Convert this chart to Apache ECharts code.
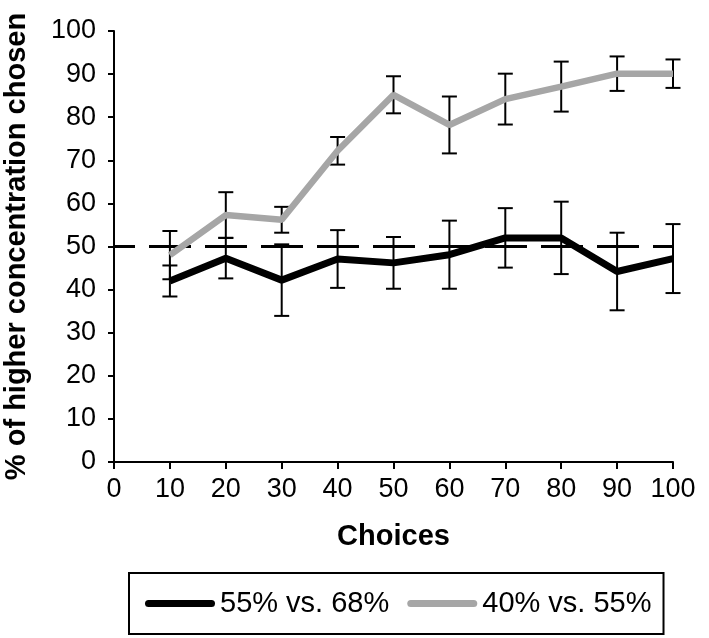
<!DOCTYPE html>
<html>
<head>
<meta charset="utf-8">
<script src="https://cdn.jsdelivr.net/npm/echarts@6/dist/echarts.min.js"></script>
<style>html,body{margin:0;padding:0;background:#fff}#c{width:709px;height:638px}</style>
</head>
<body>
<div id="c"></div>
<script>
// ---- data ----
var choices = [10, 20, 30, 40, 50, 60, 70, 80, 90, 100];
var blackName = '55% vs. 68%';
var grayName = '40% vs. 55%';
var blackVals = [42, 47.3, 42.2, 47.1, 46.2, 48.1, 52, 52, 44.2, 47.2];
var blackErr  = [3.6, 4.7, 8.3, 6.7, 6.0, 7.9, 6.9, 8.4, 9.0, 8.0];
var grayVals  = [48, 57.3, 56.2, 72.2, 85.2, 78.2, 84.2, 87.1, 90.1, 90.1];
var grayErr   = [5.6, 5.3, 3.0, 3.2, 4.3, 6.6, 5.9, 5.8, 4.0, 3.3];
var chanceLevel = 50;
var xRange = [0, 100];

var FONT = '"Liberation Sans", Arial, sans-serif';
var LEGEND_ICON = 'path://M3.5,0 H66.5 A3.5,3.5 0 0 1 66.5,7 H3.5 A3.5,3.5 0 0 1 3.5,0 Z';

function pairs(xs, ys) { return xs.map(function (x, i) { return [x, ys[i]]; }); }
function errData(xs, ys, es) { return xs.map(function (x, i) { return [x, ys[i] - es[i], ys[i] + es[i]]; }); }

function renderErr(params, api) {
  var x = api.value(0);
  var lo = api.coord([x, api.value(1)]);
  var hi = api.coord([x, api.value(2)]);
  var hw = 7.5;
  var st = { stroke: '#000', lineWidth: 2, fill: null };
  return {
    type: 'group',
    children: [
      { type: 'line', shape: { x1: lo[0], y1: lo[1], x2: hi[0], y2: hi[1] }, style: st },
      { type: 'line', shape: { x1: lo[0] - hw, y1: lo[1], x2: lo[0] + hw, y2: lo[1] }, style: st },
      { type: 'line', shape: { x1: hi[0] - hw, y1: hi[1], x2: hi[0] + hw, y2: hi[1] }, style: st }
    ]
  };
}

var chart = echarts.init(document.getElementById('c'), null, { renderer: 'canvas' });
chart.setOption({
  animation: false,
  backgroundColor: '#fff',
  grid: { left: 114, right: 36, top: 31, bottom: 176, containLabel: false, outerBoundsMode: 'none' },
  xAxis: {
    type: 'value', min: 0, max: 100, interval: 10,
    name: 'Choices', nameLocation: 'middle', nameGap: 60,
    nameTextStyle: { fontFamily: FONT, fontSize: 29, fontWeight: 'bold', color: '#000' },
    axisLine: { lineStyle: { color: '#000', width: 2 } },
    axisTick: { show: true, length: 7, lineStyle: { color: '#000', width: 2 } },
    axisLabel: { fontFamily: FONT, fontSize: 27, color: '#000', margin: 14 },
    splitLine: { show: false }
  },
  yAxis: {
    type: 'value', min: 0, max: 100, interval: 10,
    name: '% of higher concentration chosen', nameLocation: 'middle', nameGap: 83,
    nameTextStyle: { fontFamily: FONT, fontSize: 29, fontWeight: 'bold', color: '#000' },
    axisLine: { show: true, lineStyle: { color: '#000', width: 2 } },
    axisTick: { show: true, length: 6, lineStyle: { color: '#000', width: 2 } },
    axisLabel: { fontFamily: FONT, fontSize: 27, color: '#000', margin: 18 },
    splitLine: { show: false }
  },
  legend: {
    data: [
      { name: blackName, icon: LEGEND_ICON },
      { name: grayName, icon: LEGEND_ICON }
    ],
    left: 129, top: 573,
    itemWidth: 70, itemHeight: 7, itemGap: 18,
    padding: [16, 12, 16, 16],
    borderColor: '#000', borderWidth: 2,
    textStyle: { fontFamily: FONT, fontSize: 29, color: '#000' }
  },
  series: [
    {
      name: 'chance', type: 'line', data: [[xRange[0], chanceLevel], [xRange[1], chanceLevel]],
      symbol: 'none', silent: true, z: 1,
      lineStyle: { color: '#000', width: 3, type: [42, 14], dashOffset: 21 }
    },
    {
      name: 'errBlack', type: 'custom', data: errData(choices, blackVals, blackErr),
      renderItem: renderErr, z: 2, encode: { x: 0, y: [1, 2] }
    },
    {
      name: 'errGray', type: 'custom', data: errData(choices, grayVals, grayErr),
      renderItem: renderErr, z: 2, encode: { x: 0, y: [1, 2] }
    },
    {
      name: grayName, type: 'line', data: pairs(choices, grayVals),
      symbol: 'none', z: 3, color: '#a6a6a6',
      lineStyle: { color: '#a6a6a6', width: 6.5 }
    },
    {
      name: blackName, type: 'line', data: pairs(choices, blackVals),
      symbol: 'none', z: 4, color: '#000',
      lineStyle: { color: '#000', width: 7 }
    }
  ]
});
</script>
</body>
</html>
